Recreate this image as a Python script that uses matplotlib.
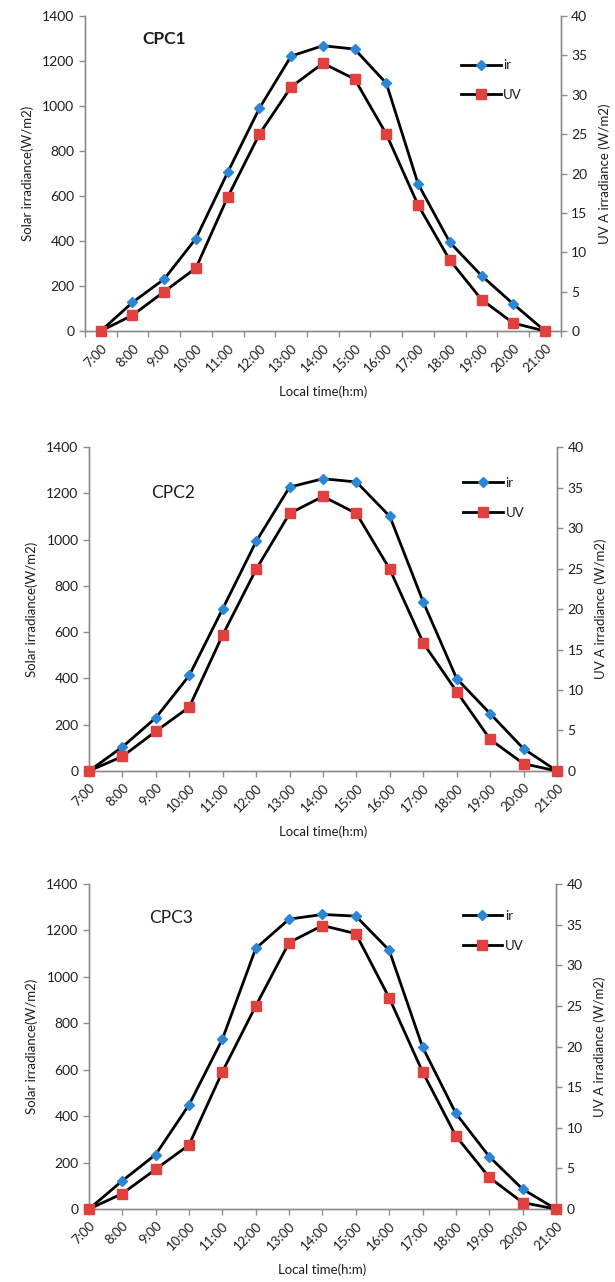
import matplotlib.pyplot as plt
from matplotlib.lines import Line2D

# ------------------------------------------------------------
# data
# ------------------------------------------------------------
hours = ["7:00", "8:00", "9:00", "10:00", "11:00", "12:00", "13:00", "14:00",
         "15:00", "16:00", "17:00", "18:00", "19:00", "20:00", "21:00"]

ir_cpc1 = [0, 127, 231, 411, 705, 990, 1222, 1268, 1253, 1101, 654, 394, 246, 120, 0]
uv_cpc1 = [0, 2, 5, 8, 17, 25, 31, 34, 32, 25, 16, 9, 4, 1, 0]

ir_cpc2 = [0, 104, 230, 413, 701, 992, 1227, 1263, 1249, 1100, 730, 399, 248, 96, 0]
uv_cpc2 = [0, 1.8, 4.9, 7.9, 16.8, 24.9, 31.8, 33.9, 31.8, 24.9, 15.8, 9.8, 3.9, 0.9, 0]

ir_cpc3 = [0, 122, 235, 449, 732, 1123, 1249, 1269, 1262, 1115, 698, 412, 226, 86, 0]
uv_cpc3 = [0, 1.9, 4.9, 7.9, 16.9, 25, 32.8, 34.9, 33.9, 26, 16.9, 9, 3.9, 0.8, 0]

panel_names = ["CPC1", "CPC2", "CPC3"]

BLUE = "#2C86D6"
RED = "#E0403E"
GREY = "#8C8C8C"
TXT = "#1E1E1E"

plt.rcParams["font.family"] = ["Lato", "DejaVu Sans"]

fig = plt.figure(figsize=(6.15, 12.82), dpi=100)

# axes rectangles in figure fractions (left, bottom, width, height)
rects = [
    (0.138, 0.7418, 0.774, 0.2457),
    (0.1447, 0.3986, 0.761, 0.2527),
    (0.1447, 0.0569, 0.7593, 0.2535),
]
# first panel: points between ticks, the others: points on tick marks
between = [True, False, False]
name_pos = [(0.12, 0.927), (0.132, 0.858), (0.128, 0.895)]
leg_pos = [(0.79, 0.863), (0.80, 0.908), (0.80, 0.92)]

datasets = [(ir_cpc1, uv_cpc1), (ir_cpc2, uv_cpc2), (ir_cpc3, uv_cpc3)]
x = list(range(len(hours)))

for i, (ir, uv) in enumerate(datasets):
    ax = fig.add_axes(rects[i])
    ax2 = ax.twinx()

    ax.plot(x, ir, color="black", lw=2.0, marker="D", ms=5.5,
            mfc=BLUE, mec=BLUE, zorder=3, clip_on=False)
    ax2.plot(x, uv, color="black", lw=2.0, marker="s", ms=7.5,
             mfc=RED, mec=RED, zorder=3, clip_on=False)

    ax.set_ylim(0, 1400)
    ax.set_yticks(range(0, 1401, 200))
    ax2.set_ylim(0, 40)
    ax2.set_yticks(range(0, 41, 5))

    if between[i]:
        ax.set_xlim(-0.5, len(hours) - 0.5)
        ax.set_xticks([k + 0.5 for k in range(-1, len(hours))])
        ax.set_xticklabels([])
        ax.set_xticks(x, minor=True)
        ax.set_xticklabels(hours, minor=True, rotation=45, ha="right",
                           rotation_mode="anchor", fontsize=9.5, color=TXT)
        ax.tick_params(axis="x", which="minor", length=0, pad=8)
    else:
        ax.set_xlim(0, len(hours) - 1)
        ax.set_xticks(x)
        ax.set_xticklabels(hours, rotation=45, ha="right",
                           rotation_mode="anchor", fontsize=9.5, color=TXT)

    for a in (ax, ax2):
        a.spines["top"].set_visible(False)
        for s in ("left", "right", "bottom"):
            a.spines[s].set_color(GREY)
            a.spines[s].set_linewidth(1.0)
        a.tick_params(axis="both", which="major", color=GREY, length=4,
                      width=1.0, labelsize=10, labelcolor=TXT)
    ax.tick_params(axis="x", labelsize=9.5)

    ax.set_ylabel("Solar irradiance(W/m2)", fontsize=9.5, color=TXT, labelpad=6)
    ax2.set_ylabel("UV A irradiance (W/m2)", fontsize=9.5, color=TXT, labelpad=8)
    ax.set_xlabel("Local time(h:m)", fontsize=9.5, color=TXT, labelpad=8)

    ax.text(name_pos[i][0], name_pos[i][1], panel_names[i], transform=ax.transAxes,
            fontsize=12.5, fontweight="bold" if i == 0 else "normal",
            color=TXT, va="center", ha="left")

    handles = [
        Line2D([], [], color="black", lw=2.0, marker="D", ms=5.5, mfc=BLUE, mec=BLUE),
        Line2D([], [], color="black", lw=2.0, marker="s", ms=7.5, mfc=RED, mec=RED),
    ]
    leg = ax2.legend(handles, ["ir", "UV"], loc="upper left",
                     bbox_to_anchor=leg_pos[i], frameon=False, fontsize=9.5,
                     handlelength=3.0, handletextpad=0.2, labelspacing=1.35,
                     borderaxespad=0, borderpad=0)
    for t in leg.get_texts():
        t.set_color(TXT)

fig.savefig("out.png", dpi=100)
